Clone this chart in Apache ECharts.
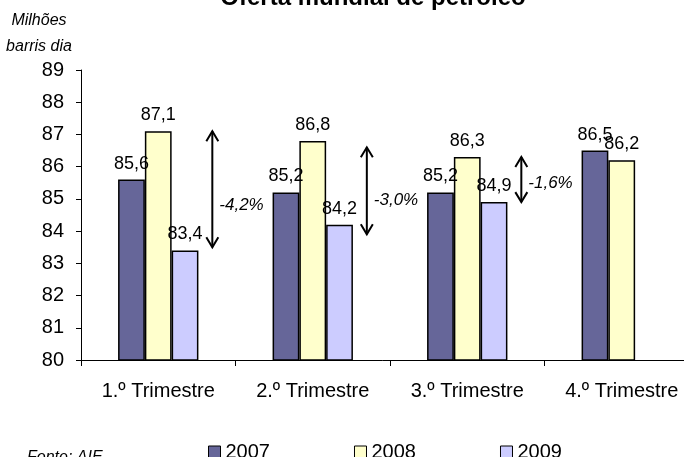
<!DOCTYPE html>
<html>
<head>
<meta charset="utf-8">
<script src="https://cdn.jsdelivr.net/npm/echarts@6/dist/echarts.min.js"></script>
<style>
html,body{margin:0;padding:0;background:#fff;}
#chart{width:684px;height:457px;}
</style>
</head>
<body>
<div id="chart"></div>
<script>
var categories = ['1.º Trimestre', '2.º Trimestre', '3.º Trimestre', '4.º Trimestre'];
var seriesNames = ['2007', '2008', '2009'];
var values2007 = [85.6, 85.2, 85.2, 86.5];
var values2008 = [87.1, 86.8, 86.3, 86.2];
var values2009 = [83.4, 84.2, 84.9, null];
var arrowTop = [87.1, 86.6, 86.3];
var arrowBottom = [83.5, 83.9, 84.9];
var arrowLabelAt = [84.8, 84.95, 85.5];
var arrowLabels = ['-4,2%', '-3,0%', '-1,6%'];
var yTicks = [80, 81, 82, 83, 84, 85, 86, 87, 88, 89];

var FONT = '"Liberation Sans", Arial, sans-serif';
var colors = ['#666699', '#FFFFCC', '#CCCCFF'];
var seriesValues = [values2007, values2008, values2009];

function fmt(p) {
  var v = Array.isArray(p.value) ? p.value[1] : p.value;
  if (v == null || v === '-') return '';
  return v.toFixed(1).replace('.', ',');
}

var arrowData = arrowTop.map(function (t, i) {
  return [i, t, arrowBottom[i], arrowLabelAt[i], arrowLabels[i]];
});

var barSeries = seriesNames.map(function (name, i) {
  return {
    name: name,
    type: 'bar',
    data: seriesValues[i],
    barGap: '0%',
    barCategoryGap: '48%',
    itemStyle: { color: colors[i], borderColor: '#000', borderWidth: 1.5 },
    label: {
      show: true, position: 'top', distance: 7,
      fontFamily: FONT, fontSize: 18, color: '#000',
      formatter: fmt
    }
  };
});

var arrowSeries = {
  type: 'custom',
  name: 'arrows',
  silent: true,
  z: 10,
  data: arrowData,
  encode: { x: 0, y: [1, 2] },
  renderItem: function (params, api) {
    var idx = api.value(0);
    var band = api.size([1, 0])[0];
    var pTop = api.coord([idx, api.value(1)]);
    var pBot = api.coord([idx, api.value(2)]);
    var pLab = api.coord([idx, api.value(3)]);
    var x = pTop[0] + band * 0.35;
    var y1 = pTop[1], y2 = pBot[1];
    var hw = 6, hh = 10;
    var ls = { stroke: '#000', lineWidth: 2, fill: null };
    return {
      type: 'group',
      children: [
        { type: 'line', shape: { x1: x, y1: y1, x2: x, y2: y2 }, style: ls },
        { type: 'polyline', shape: { points: [[x - hw, y1 + hh], [x, y1], [x + hw, y1 + hh]] }, style: ls },
        { type: 'polyline', shape: { points: [[x - hw, y2 - hh], [x, y2], [x + hw, y2 - hh]] }, style: ls },
        { type: 'text', style: {
            text: api.value(4), x: x + 7, y: pLab[1],
            font: 'italic 17px ' + FONT, fill: '#000',
            textAlign: 'left', textVerticalAlign: 'middle'
        } }
      ]
    };
  }
};

var chart = echarts.init(document.getElementById('chart'), null, { renderer: 'canvas' });
chart.setOption({
  animation: false,
  backgroundColor: '#fff',
  grid: { left: 81, top: 70, height: 290, width: 618, containLabel: false, outerBoundsMode: 'none' },
  legend: {
    data: seriesNames,
    left: 203, top: 437,
    icon: 'rect', itemWidth: 12, itemHeight: 12, itemGap: 84,
    textStyle: { fontFamily: FONT, fontSize: 20, color: '#000' },
    itemStyle: { borderColor: '#000', borderWidth: 1 }
  },
  xAxis: {
    type: 'category',
    data: categories,
    axisLine: { lineStyle: { color: '#000', width: 1 } },
    axisTick: { show: true, length: 6, lineStyle: { color: '#000' } },
    axisLabel: { fontFamily: FONT, fontSize: 20, color: '#000', margin: 21 },
    splitLine: { show: false }
  },
  yAxis: {
    type: 'value',
    min: yTicks[0], max: yTicks[yTicks.length - 1], interval: 1,
    axisLine: { show: true, lineStyle: { color: '#000', width: 1 } },
    axisTick: { show: true, length: 5, lineStyle: { color: '#000' } },
    axisLabel: { fontFamily: FONT, fontSize: 20, color: '#000', margin: 17 },
    splitLine: { show: false }
  },
  graphic: [
    { type: 'text', style: { text: 'Oferta mundial de petróleo', x: 373, y: 10, font: 'bold 24px ' + FONT, fill: '#000', textAlign: 'center', textVerticalAlign: 'bottom' } },
    { type: 'text', style: { text: 'Milhões', x: 39, y: 21, font: 'italic 16px ' + FONT, fill: '#000', textAlign: 'center', textVerticalAlign: 'middle' } },
    { type: 'text', style: { text: 'barris dia', x: 39, y: 47, font: 'italic 16px ' + FONT, fill: '#000', textAlign: 'center', textVerticalAlign: 'middle' } },
    { type: 'text', style: { text: 'Fonte: AIE', x: 27, y: 450, font: 'italic 16px ' + FONT, fill: '#000', textAlign: 'left', textVerticalAlign: 'top' } }
  ],
  series: barSeries.concat([arrowSeries])
});
</script>
</body>
</html>
